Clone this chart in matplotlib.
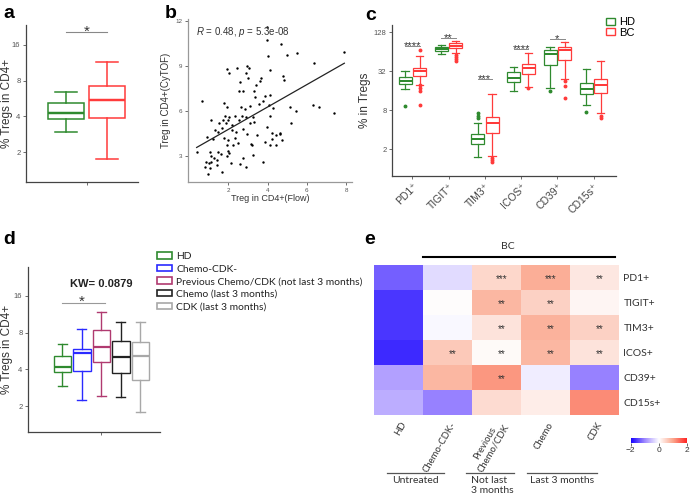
import matplotlib
matplotlib.use("Agg")
import matplotlib.pyplot as plt
import numpy as np
from matplotlib.colors import LinearSegmentedColormap
from matplotlib.lines import Line2D
from matplotlib.patches import Patch

# ---- data -----------------------------------------------------------------
# panel a: % Tregs in CD4+ (whislo, q1, median, q3, whishi)
a_groups = ["HD", "BC"]
a_stats = [[2.94, 3.77, 4.24, 5.14, 6.35],
           [1.75, 3.85, 5.44, 7.26, 11.5]]
a_sig_y = 20.5

# panel b: Treg in CD4+ by flow vs CyTOF
flow = [1.92, 2.06, 2.43, 2.94, 3.08, 2.89, 2.99, 2.60, 3.67, 3.62, 4.13, 3.40, 3.32, 2.57, 2.77,
        3.37, 3.88, 0.65, 1.80, 3.57, 3.96, 3.96, 4.02, 4.69, 4.98, 5.49, 7.91, 6.38, 4.81, 4.86,
        4.10, 3.79, 4.05,
        1.92, 2.65, 2.86, 3.11, 4.30, 4.13, 1.84, 2.04, 2.35, 2.69, 2.91, 3.28, 1.12, 1.75, 2.01,
        2.55, 1.53, 1.87, 3.11, 3.33, 3.96, 2.18, 1.67, 2.77, 1.33, 1.49, 2.40, 2.94, 3.45, 0.90,
        1.24, 1.80, 1.97, 3.16, 2.52, 3.88, 1.92, 3.20, 0.39, 1.07, 1.49, 1.97, 2.06, 1.12, 1.29,
        1.41, 1.63, 3.28, 1.92, 2.77, 3.79, 0.85, 1.02, 1.12, 2.13, 2.60, 2.89, 0.82, 1.41, 1.07,
        1.67, 0.98,
        5.12, 5.44, 6.29, 6.60, 7.36, 5.20, 4.42, 4.61, 4.64, 4.73, 4.42, 4.13, 4.22, 4.22, 2.24,
        2.35, 2.19]
cytof = [8.77, 8.55, 8.88, 8.99, 8.84, 8.51, 8.18, 7.93, 8.18, 8.00, 8.72, 7.74, 7.34, 7.30, 7.34,
         6.90, 7.01, 6.68, 6.51, 6.47, 11.55, 10.70, 9.64, 10.41, 9.71, 9.82, 9.91, 9.16, 8.33, 8.07,
         7.08, 6.68, 6.40,
         6.29, 6.24, 6.14, 6.36, 6.20, 5.70, 5.70, 5.63, 5.70, 5.70, 5.59, 5.59, 5.41, 5.41, 5.37,
         5.37, 5.19, 5.19, 5.19, 5.26, 4.97, 5.04, 4.89, 4.82, 4.71, 4.60, 4.60, 4.49, 4.38, 4.27,
         4.16, 4.20, 4.10, 3.84, 3.90, 3.94, 3.72, 3.72, 3.28, 3.28, 3.28, 3.35, 3.22, 3.00, 2.85,
         2.78, 3.18, 3.07, 3.00, 2.91, 2.63, 2.59, 2.52, 2.63, 2.52, 2.47, 2.30, 2.30, 2.41, 2.19,
         1.97, 1.82,
         6.24, 6.03, 6.42, 6.24, 5.88, 5.19, 4.38, 4.49, 4.56, 4.05, 3.72, 3.72, 4.16, 4.56, 3.72,
         4.18, 4.71]
fit_slope, fit_intercept = 0.743, 3.29
b_stat_text = "$\\it{R}$ = 0.48, $\\it{p}$ = 5.3e-08"

# panel c: % in Tregs per marker, HD vs BC
markers = ["PD1⁺", "TIGIT⁺", "TIM3⁺", "ICOS⁺", "CD39⁺", "CD15s⁺"]
c_hd = [[17.0, 20.4, 22.9, 26.4, 32.3],
        [59.3, 66.7, 71.5, 76.6, 83.0],
        [1.52, 2.42, 2.88, 3.48, 5.2],
        [16.0, 22.1, 25.5, 30.9, 37.8],
        [17.9, 39.7, 58.5, 68.0, 76.6],
        [9.6, 14.1, 17.3, 21.4, 34.8]]
c_hd_out = [[9.3], [], [6.1, 6.6, 7.2], [], [16.0], [7.5]]
c_bc = [[19.7, 27.0, 32.3, 36.3, 55.0],
        [60.5, 74.0, 79.4, 86.8, 95.0],
        [1.61, 3.53, 5.04, 6.3, 14.3],
        [18.1, 29.0, 35.5, 41.0, 61.8],
        [24.1, 47.8, 68.0, 76.6, 90.0],
        [7.4, 14.6, 19.4, 24.1, 46.5]]
c_bc_out = [[68.0, 19.5, 17.5, 16.0, 9.6], [57.3, 52.7, 49.5, 46.0], [1.49, 1.36, 1.26],
            [17.9], [22.9, 18.8, 12.6], [6.6, 6.2]]
c_sig = ["****", "**", "***", "****", "*", ""]
c_sig_y = [78.8, 105, 24.6, 70, 99.7, None]

# panel d: % Tregs in CD4+ by treatment
d_groups = ["HD", "Chemo-CDK-", "Previous Chemo/CDK (not last 3 months)",
            "Chemo (last 3 months)", "CDK (last 3 months)"]
d_stats = [[2.95, 3.79, 4.21, 5.15, 6.5],
           [2.24, 3.89, 5.41, 5.84, 8.6],
           [2.43, 4.6, 6.1, 8.44, 11.8],
           [2.37, 3.71, 5.03, 6.87, 9.85],
           [1.79, 3.28, 5.15, 6.73, 9.85]]
d_kw = "KW= 0.0879"
d_sig_y = 14.0

# panel e: z-scored heatmap
e_rows = ["PD1+", "TIGIT+", "TIM3+", "ICOS+", "CD39+", "CD15s+"]
e_cols = ["HD", "Chemo-CDK-", "Previous\nChemo/CDK", "Chemo", "CDK"]
e_vals = [[-1.3, -0.3, 0.45, 0.9, 0.25],
          [-1.6, 0.02, 0.8, 0.5, 0.1],
          [-1.6, -0.06, 0.3, 0.85, 0.5],
          [-1.7, 0.6, 0.06, 0.8, 0.3],
          [-0.8, 0.8, 1.1, -0.15, -1.05],
          [-0.7, -1.05, 0.4, 0.2, 1.2]]
e_stars = [["", "", "***", "***", "**"],
           ["", "", "**", "**", ""],
           ["", "", "**", "**", "**"],
           ["", "**", "**", "**", "**"],
           ["", "", "**", "", ""],
           ["", "", "", "", ""]]

# ---- figure ---------------------------------------------------------------
W, H = 691, 501
plt.rcParams["font.family"] = ["Liberation Sans", "DejaVu Sans"]
plt.rcParams["mathtext.fontset"] = "custom"
plt.rcParams["mathtext.rm"] = "Liberation Sans"
plt.rcParams["mathtext.it"] = "Liberation Sans:italic"

GREEN, RED = "#2f8a2f", "#ff3b3b"
D_COLORS = [GREEN, "#2a2aff", "#b03a70", "#222222", "#a8a8a8"]
TXT = "#333333"
CAL = ["Lato", "DejaVu Sans"]

fig = plt.figure(figsize=(W / 100, H / 100), dpi=100)


def rect(l, t, r, b):
    return [l / W, 1 - b / H, (r - l) / W, (b - t) / H]


def fx(x):
    return x / W


def fy(y):
    return 1 - y / H


def style(ax, spine="#444444"):
    for s in ("top", "right"):
        ax.spines[s].set_visible(False)
    for s in ("left", "bottom"):
        ax.spines[s].set_color(spine)
        ax.spines[s].set_linewidth(0.9)
    ax.tick_params(length=2.5, width=0.6, colors="#555555", labelsize=5.5, pad=1.5)


def boxes(ax, stats, pos, colors, width, outliers=None, lw=1.0, capw=None, ms=2):
    for i, (s, p, c) in enumerate(zip(stats, pos, colors)):
        lo, q1, med, q3, hi = s
        st = dict(whislo=lo, q1=q1, med=med, q3=q3, whishi=hi,
                  fliers=outliers[i] if outliers else [])
        ax.bxp([st], positions=[p], widths=width, capwidths=capw, patch_artist=True,
               manage_ticks=False,
               boxprops=dict(facecolor="white", edgecolor=c, linewidth=lw),
               whiskerprops=dict(color=c, linewidth=lw),
               capprops=dict(color=c, linewidth=lw),
               medianprops=dict(color=c, linewidth=lw * 1.6),
               flierprops=dict(marker="o", markersize=ms, markerfacecolor=c,
                               markeredgecolor=c, linestyle="none"))


def log2_axis(ax, ticks):
    ax.set_yscale("log", base=2)
    ax.set_yticks(ticks)
    ax.set_yticklabels([str(t) for t in ticks])
    ax.yaxis.set_minor_locator(matplotlib.ticker.NullLocator())


# a
ax = fig.add_axes(rect(26, 25, 138, 182))
style(ax)
boxes(ax, a_stats, [0.79, 1.20], [GREEN, RED], 0.36, lw=1.1, capw=0.22)
log2_axis(ax, [2, 4, 8, 16])
ax.set_ylim(1.12, 23.5)
ax.set_xlim(0.39, 1.51)
ax.set_xticks([1])
ax.set_xticklabels([""])
ax.set_ylabel("% Tregs in CD4+", fontsize=8.5, color=TXT)
ax.yaxis.set_label_coords(-0.115, 0.5)
ax.plot([0.79, 1.20], [a_sig_y, a_sig_y], color="#888888", lw=0.8, clip_on=False)
ax.text(1.0, a_sig_y, "*", ha="center", va="center", fontsize=11, color=TXT)

# b
ax = fig.add_axes(rect(188, 19, 352, 182))
style(ax, spine="#999999")
ax.scatter(flow, cytof, s=3, color="black", linewidths=0)
xf = np.array([min(flow), max(flow)])
ax.plot(xf, fit_slope * xf + fit_intercept, color="#222222", lw=0.9)
ax.set_xlim(-0.05, 8.3)
ax.set_ylim(1.29, 12.1)
ax.set_xticks([2, 4, 6, 8])
ax.set_yticks([3, 6, 9, 12])
ax.tick_params(labelsize=4.5)
ax.set_xlabel("Treg in CD4+(Flow)", fontsize=6.5, color=TXT, labelpad=1)
ax.set_ylabel("Treg in CD4+(CyTOF)", fontsize=7, color=TXT, labelpad=3)
ax.text(0.05, 0.92, b_stat_text, transform=ax.transAxes, fontsize=7, color=TXT,
        va="center")

# c
ax = fig.add_axes(rect(392, 25, 616, 176))
style(ax)
xc = np.arange(len(markers))
boxes(ax, c_hd, xc - 0.2, [GREEN] * 6, 0.36, outliers=c_hd_out, lw=0.9, capw=0.2, ms=1.8)
boxes(ax, c_bc, xc + 0.2, [RED] * 6, 0.36, outliers=c_bc_out, lw=0.9, capw=0.2, ms=1.8)
log2_axis(ax, [2, 8, 32, 128])
ax.set_ylim(0.78, 166)
ax.set_xlim(-0.56, 5.62)
ax.set_xticks(xc)
ax.set_xticklabels(markers, rotation=45, ha="right", rotation_mode="anchor",
                   fontsize=7.5, color="#444444")
ax.set_ylabel("% in Tregs", fontsize=8.5, color=TXT, labelpad=2)
for i, (s, y) in enumerate(zip(c_sig, c_sig_y)):
    if s:
        ax.plot([i - 0.2, i + 0.2], [y, y], color="#888888", lw=0.7)
        ax.text(i, y, s, ha="center", va="center", fontsize=8, color=TXT)
fig.legend([Patch(facecolor="white", edgecolor=GREEN), Patch(facecolor="white", edgecolor=RED)],
           ["HD", "BC"], loc="upper left", bbox_to_anchor=(fx(606), fy(17)), frameon=False,
           fontsize=8, handlelength=0.8, handleheight=0.6, handletextpad=0.4,
           labelspacing=0.05, borderpad=0, borderaxespad=0)

# d
ax = fig.add_axes(rect(28, 267, 160, 432))
style(ax)
xd = np.arange(len(d_groups))
boxes(ax, d_stats, xd, D_COLORS, 0.9, lw=1.0, capw=0.45)
log2_axis(ax, [2, 4, 8, 16])
ax.set_ylim(1.23, 27.6)
ax.set_xlim(-1.76, 5.01)
ax.set_xticks([2])
ax.set_xticklabels([""])
ax.set_ylabel("% Tregs in CD4+", fontsize=8.5, color=TXT)
ax.yaxis.set_label_coords(-0.11, 0.5)
ax.text(2, 20.2, d_kw, ha="center", va="center", fontsize=8, fontweight="bold", color="#222222")
ax.plot([0, 2.2], [d_sig_y, d_sig_y], color="#999999", lw=0.8)
ax.text(1.0, d_sig_y * 1.02, "*", ha="center", va="center", fontsize=11, color=TXT)
fig.legend([Patch(facecolor="white", edgecolor=c, linewidth=1.2) for c in D_COLORS], d_groups,
           loc="upper left", bbox_to_anchor=(fx(157), fy(252)), frameon=False,
           prop=dict(family=CAL, size=7.4), handlelength=1.5, handleheight=0.6,
           handletextpad=0.35, labelspacing=0.35, borderpad=0, borderaxespad=0,
           labelcolor="#222222")

# e
cmap = LinearSegmentedColormap.from_list(
    "bwr2", [(0, "#1400ff"), (0.25, "#a08aff"), (0.5, "#ffffff"), (0.75, "#fba68c"),
             (1, "#ff2020")])
ax = fig.add_axes(rect(374.3, 265, 619.3, 415))
im = ax.imshow(np.array(e_vals), cmap=cmap, vmin=-2, vmax=2, aspect="auto",
               interpolation="nearest")
for s in ax.spines.values():
    s.set_visible(False)
ax.yaxis.tick_right()
ax.set_yticks(range(len(e_rows)))
ax.set_yticklabels(e_rows, fontsize=7.5, color="#333333", family=CAL)
ax.tick_params(length=0, pad=3)
ax.set_xticks([])
for i, row in enumerate(e_stars):
    for j, s in enumerate(row):
        if s:
            ax.text(j + 0.1, i + 0.08, s, ha="center", va="center", fontsize=7, color="#333333")
for j, lab in enumerate(e_cols):
    ax.text(j + 0.12, 5.8, lab, rotation=60, ha="right", va="center", rotation_mode="anchor",
            multialignment="center", fontsize=6.8, color="#333333", family=CAL)

fig.add_artist(Line2D([fx(423.3), fx(615)], [fy(256.7), fy(256.7)], color="black", lw=1.5))
fig.text(fx(508), fy(246.5), "BC", ha="center", va="center", fontsize=7.5, color="#333333",
         family=CAL)
for x0, x1, label, tx, ha in [(386.7, 444.3, "Untreated", 415.5, "center"),
                              (465.7, 514.0, "Not last\n3 months", 471, "left"),
                              (526.7, 597.3, "Last 3 months", 562, "center")]:
    fig.add_artist(Line2D([fx(x0), fx(x1)], [fy(472.7), fy(472.7)], color="#555555", lw=0.9))
    fig.text(fx(tx), fy(476), label, ha=ha, va="top", fontsize=7.5, color="#333333",
             family=CAL, linespacing=1.1)

cax = fig.add_axes(rect(630.7, 437.7, 687.3, 442.7))
cb = fig.colorbar(im, cax=cax, orientation="horizontal", ticks=[-2, 0, 2])
cb.outline.set_visible(False)
cax.tick_params(labelsize=6, length=2, width=0.5, pad=1, colors="#333333")

# panel letters
for letter, x, y in [("a", 9, 14), ("b", 171, 14), ("c", 371, 16), ("d", 9, 239), ("e", 370, 239)]:
    fig.text(fx(x), fy(y), letter, ha="center", va="center", fontsize=14, fontweight="bold")

fig.savefig("out.png", dpi=100)
